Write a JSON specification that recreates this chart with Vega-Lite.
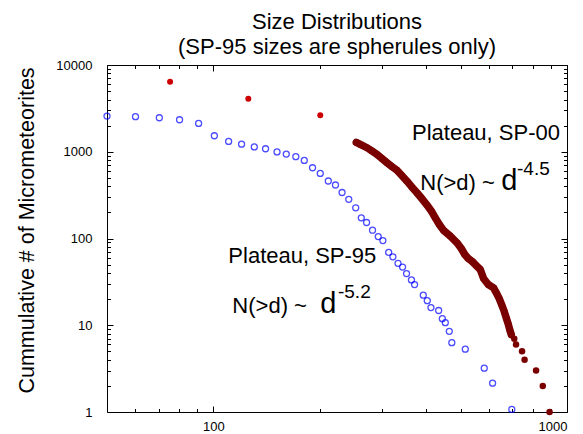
{
  "$schema": "https://vega.github.io/schema/vega-lite/v6.json",
  "width": 460,
  "height": 347,
  "autosize": {"type": "none"},
  "padding": {"left": 107, "top": 65, "right": 16, "bottom": 22},
  "background": "white",
  "config": {
    "font": "Liberation Sans",
    "view": {"stroke": null},
    "axis": {"grid": false, "domainColor": "#000", "domainWidth": 1, "tickColor": "#000", "tickWidth": 1, "labelColor": "#000", "labelFontSize": 13, "labelFont": "Liberation Sans", "titleColor": "#000"}
  },
  "title": {
    "text": ["Size Distributions", "(SP-95 sizes are spherules only)"],
    "fontSize": 22,
    "fontWeight": "normal",
    "lineHeight": 25,
    "baseline": "bottom",
    "offset": -22,
    "color": "#000",
    "font": "Liberation Sans"
  },
  "datasets": {
    "sp95": [
      {"d": 50.0, "n": 2576}, {"d": 60.2, "n": 2535}, {"d": 70.3, "n": 2466}, {"d": 80.2, "n": 2339},
      {"d": 90.8, "n": 2121}, {"d": 100.6, "n": 1530}, {"d": 110.4, "n": 1315}, {"d": 120.1, "n": 1224},
      {"d": 130.5, "n": 1136}, {"d": 140.4, "n": 1083}, {"d": 151.3, "n": 995}, {"d": 160.7, "n": 941},
      {"d": 171.0, "n": 878}, {"d": 180.7, "n": 794}, {"d": 190.7, "n": 654}, {"d": 200.5, "n": 562},
      {"d": 211.3, "n": 460}, {"d": 221.4, "n": 414}, {"d": 231.1, "n": 339}, {"d": 241.4, "n": 283},
      {"d": 252.6, "n": 226}, {"d": 261.9, "n": 173}, {"d": 271.1, "n": 153}, {"d": 281.8, "n": 124.6},
      {"d": 292.5, "n": 105.2}, {"d": 301.5, "n": 94.6}, {"d": 313.1, "n": 69.1}, {"d": 321.8, "n": 61.5},
      {"d": 332.7, "n": 51.8}, {"d": 342.7, "n": 46.9}, {"d": 351.7, "n": 39.4}, {"d": 363.1, "n": 33.3},
      {"d": 370.6, "n": 29.4}, {"d": 392.2, "n": 22.2}, {"d": 402.5, "n": 19.2}, {"d": 412.3, "n": 16.0},
      {"d": 433.5, "n": 14.8}, {"d": 444.0, "n": 11.9}, {"d": 452.7, "n": 10.7}, {"d": 464.6, "n": 8.5},
      {"d": 472.3, "n": 6.3}, {"d": 515.6, "n": 5.3}, {"d": 583.4, "n": 3.2}, {"d": 616.0, "n": 2.15},
      {"d": 698.0, "n": 1.07}
    ],
    "sp00": [
      {"d": 253.5, "n": 1280, "part": "curve"}, {"d": 261.9, "n": 1198, "part": "curve"}, {"d": 271.9, "n": 1112, "part": "curve"},
      {"d": 280.5, "n": 1021, "part": "curve"}, {"d": 290.1, "n": 931, "part": "curve"}, {"d": 299.3, "n": 837, "part": "curve"},
      {"d": 309.7, "n": 747, "part": "curve"}, {"d": 319.5, "n": 677, "part": "curve"}, {"d": 330.4, "n": 613, "part": "curve"},
      {"d": 341.0, "n": 533, "part": "curve"}, {"d": 352.7, "n": 458, "part": "curve"}, {"d": 363.9, "n": 393, "part": "curve"},
      {"d": 376.4, "n": 337, "part": "curve"}, {"d": 388.4, "n": 289, "part": "curve"}, {"d": 401.8, "n": 243, "part": "curve"},
      {"d": 413.2, "n": 208, "part": "curve"}, {"d": 424.1, "n": 173, "part": "curve"}, {"d": 435.4, "n": 145, "part": "curve"},
      {"d": 447.6, "n": 124, "part": "curve"}, {"d": 467.7, "n": 106.3, "part": "curve"}, {"d": 488.5, "n": 89.2, "part": "curve"},
      {"d": 502.3, "n": 76.7, "part": "curve"}, {"d": 513.9, "n": 65.4, "part": "curve"}, {"d": 525.7, "n": 58.8, "part": "curve"},
      {"d": 539.6, "n": 54.3, "part": "curve"}, {"d": 553.8, "n": 48.8, "part": "curve"}, {"d": 568.4, "n": 43.9, "part": "curve"},
      {"d": 580.8, "n": 34.6, "part": "curve"}, {"d": 598.8, "n": 29.5, "part": "curve"}, {"d": 619.8, "n": 27.0, "part": "curve"},
      {"d": 632.9, "n": 23.2, "part": "curve"}, {"d": 643.2, "n": 20.3, "part": "curve"}, {"d": 654.7, "n": 16.9, "part": "curve"},
      {"d": 664.6, "n": 14.4, "part": "curve"}, {"d": 673.2, "n": 12.2, "part": "curve"}, {"d": 682.1, "n": 10.3, "part": "curve"},
      {"d": 688.7, "n": 8.9, "part": "curve"}, {"d": 695.6, "n": 7.8, "part": "curve"},
      {"d": 709.3, "n": 7, "part": "tail"}, {"d": 717.5, "n": 6, "part": "tail"}, {"d": 746.2, "n": 5, "part": "tail"},
      {"d": 758.6, "n": 4, "part": "tail"}, {"d": 817.5, "n": 3, "part": "tail"}, {"d": 854.1, "n": 2, "part": "tail"},
      {"d": 892.7, "n": 1, "part": "tail"}
    ],
    "outliers": [
      {"d": 75.4, "n": 6419}, {"d": 125.5, "n": 4087}, {"d": 200.5, "n": 2643}
    ],
    "labels": [
      {"d": 364.4, "n": 1350, "text": "Plateau, SP-00"},
      {"d": 384.6, "n": 367, "text": "N(>d) ~"},
      {"d": 110.2, "n": 52.5, "text": "Plateau, SP-95"},
      {"d": 113.1, "n": 13.9, "text": "N(>d) ~"}
    ],
    "bigd": [
      {"d": 651.8, "n": 367, "text": "d"},
      {"d": 200.5, "n": 13.9, "text": "d"}
    ],
    "sups": [
      {"d": 722, "n": 540, "text": "-4.5"},
      {"d": 225, "n": 20.7, "text": "-5.2"}
    ]
  },
  "resolve": {"axis": {"x": "independent", "y": "independent"}},
  "layer": [
    {
      "data": {"name": "sp95"},
      "mark": {"type": "point", "shape": "circle", "filled": false, "stroke": "#0000ff", "strokeWidth": 1.3, "size": 36},
      "encoding": {
        "x": {"field": "d", "type": "quantitative", "scale": {"type": "log", "domain": [50, 1000], "nice": false},
              "axis": {"orient": "bottom", "values": [100, 1000], "format": "d", "ticks": false, "labelPadding": 8, "title": null, "domain": true}},
        "y": {"field": "n", "type": "quantitative", "scale": {"type": "log", "domain": [1, 10000], "nice": false},
              "axis": {"orient": "left", "values": [1, 10, 100, 1000, 10000], "format": "d", "ticks": false, "labelPadding": 15, "domain": true,
                       "title": "Cummulative # of Micrometeorites", "titleFontSize": 21.5, "titleFontWeight": "normal",
                       "titleFont": "Liberation Sans", "titleX": -74, "titleY": 165, "titleAngle": 270, "titleAlign": "center", "titleBaseline": "alphabetic"}}
      }
    },
    {
      "data": {"name": "sp00"},
      "transform": [{"filter": "datum.part === 'curve'"}],
      "mark": {"type": "line", "color": "#7a0000", "strokeWidth": 7.5, "strokeCap": "round", "strokeJoin": "round"},
      "encoding": {
        "x": {"field": "d", "type": "quantitative", "scale": {"type": "log", "domain": [50, 1000], "nice": false},
              "axis": {"orient": "top", "values": [100, 1000], "tickSize": -6, "labels": false, "title": null, "domain": true}},
        "y": {"field": "n", "type": "quantitative", "scale": {"type": "log", "domain": [1, 10000], "nice": false},
              "axis": {"orient": "right", "values": [1, 10, 100, 1000, 10000], "tickSize": -6, "labels": false, "title": null, "domain": true}}
      }
    },
    {
      "data": {"name": "sp00"},
      "mark": {"type": "circle", "color": "#7a0000", "opacity": 1, "size": 42},
      "encoding": {
        "x": {"field": "d", "type": "quantitative", "scale": {"type": "log", "domain": [50, 1000], "nice": false},
              "axis": {"orient": "bottom", "values": [100, 1000], "tickSize": -6, "labels": false, "title": null, "domain": false}},
        "y": {"field": "n", "type": "quantitative", "scale": {"type": "log", "domain": [1, 10000], "nice": false},
              "axis": {"orient": "left", "values": [1, 10, 100, 1000, 10000], "tickSize": -6, "labels": false, "title": null, "domain": false}}
      }
    },
    {
      "data": {"name": "outliers"},
      "mark": {"type": "circle", "color": "#cc0000", "opacity": 1, "size": 36},
      "encoding": {
        "x": {"field": "d", "type": "quantitative", "scale": {"type": "log", "domain": [50, 1000], "nice": false},
              "axis": {"orient": "top", "values": [60, 70, 80, 90, 200, 300, 400, 500, 600, 700, 800, 900], "tickSize": -3.5, "labels": false, "title": null, "domain": false}},
        "y": {"field": "n", "type": "quantitative", "scale": {"type": "log", "domain": [1, 10000], "nice": false},
              "axis": {"orient": "right", "values": [2, 3, 4, 5, 6, 7, 8, 9, 20, 30, 40, 50, 60, 70, 80, 90, 200, 300, 400, 500, 600, 700, 800, 900, 2000, 3000, 4000, 5000, 6000, 7000, 8000, 9000], "tickSize": -3.5, "labels": false, "title": null, "domain": false}}
      }
    },
    {
      "data": {"name": "labels"},
      "mark": {"type": "text", "fontSize": 22, "align": "left", "baseline": "alphabetic", "color": "#000", "font": "Liberation Sans"},
      "encoding": {
        "x": {"field": "d", "type": "quantitative", "scale": {"type": "log", "domain": [50, 1000], "nice": false},
              "axis": {"orient": "bottom", "values": [60, 70, 80, 90, 200, 300, 400, 500, 600, 700, 800, 900], "tickSize": -3.5, "labels": false, "title": null, "domain": false}},
        "y": {"field": "n", "type": "quantitative", "scale": {"type": "log", "domain": [1, 10000], "nice": false},
              "axis": {"orient": "left", "values": [2, 3, 4, 5, 6, 7, 8, 9, 20, 30, 40, 50, 60, 70, 80, 90, 200, 300, 400, 500, 600, 700, 800, 900, 2000, 3000, 4000, 5000, 6000, 7000, 8000, 9000], "tickSize": -3.5, "labels": false, "title": null, "domain": false}},
        "text": {"field": "text"}
      }
    },
    {
      "data": {"name": "bigd"},
      "mark": {"type": "text", "fontSize": 29, "align": "left", "baseline": "alphabetic", "color": "#000", "font": "Liberation Sans"},
      "encoding": {
        "x": {"field": "d", "type": "quantitative", "scale": {"type": "log", "domain": [50, 1000], "nice": false}, "axis": null},
        "y": {"field": "n", "type": "quantitative", "scale": {"type": "log", "domain": [1, 10000], "nice": false}, "axis": null},
        "text": {"field": "text"}
      }
    },
    {
      "data": {"name": "sups"},
      "mark": {"type": "text", "fontSize": 19, "align": "left", "baseline": "alphabetic", "color": "#000", "font": "Liberation Sans"},
      "encoding": {
        "x": {"field": "d", "type": "quantitative", "scale": {"type": "log", "domain": [50, 1000], "nice": false}, "axis": null},
        "y": {"field": "n", "type": "quantitative", "scale": {"type": "log", "domain": [1, 10000], "nice": false}, "axis": null},
        "text": {"field": "text"}
      }
    }
  ]
}
